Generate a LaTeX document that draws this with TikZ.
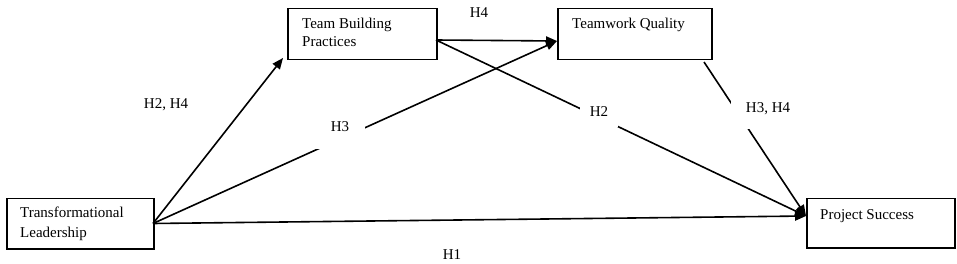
\documentclass[tikz,border=0pt]{standalone}
\usepackage{fontspec}
\setmainfont{Liberation Serif}
\usetikzlibrary{arrows.meta}
\begin{document}
\begin{tikzpicture}[x=1pt,y=-1pt,
  box/.style={draw=black, line width=1.5pt, rectangle, inner sep=0pt, anchor=north west},
  txt/.style={inner sep=0pt, anchor=base west, font=\fontsize{15}{19}\selectfont},
  lbl/.style={inner sep=2pt, fill=white, anchor=base, font=\fontsize{15}{19}\selectfont},
  conn/.style={line width=1.6pt, -{Triangle[length=11pt,width=9pt]}}]
\useasboundingbox (0,0) rectangle (957,264);
% boxes
\node[box, minimum width=147pt, minimum height=50pt] (tl) at (6,198) {};
\node[box, minimum width=149pt, minimum height=51pt] (tb) at (287,8) {};
\node[box, minimum width=154pt, minimum height=51pt] (tq) at (557,8) {};
\node[box, minimum width=148pt, minimum height=49pt] (ps) at (806,198) {};
% texts
\node[txt] (tl1) at (20,218) {Transformational};
\node[txt] (tl2) at (20,237) {Leadership};
\node[txt] (tb1) at (302,29) {Team Building};
\node[txt] (tb2) at (302,47) {Practices};
\node[txt] (tq1) at (572,29) {Teamwork Quality};
\node[txt] (ps1) at (820,220) {Project Success};
% anchor coordinates
\coordinate (tlout) at (153,223.5);
\coordinate (tbin) at (283,58);
\coordinate (tbout) at (436,40);
\coordinate (tqin) at (557,41);
\coordinate (tqout) at (704,62);
\coordinate (psin) at (806,216);
% connectors
\draw[conn] (tlout) -- (tbin);
\draw[conn] (tlout) -- (tqin);
\draw[conn] (tbout) -- (tqin);
\draw[conn] (tbout) -- (psin);
\draw[conn] (tlout) -- (psin);
\draw[conn] (tqout) -- (psin);
% labels
\node[lbl] (h4a) at (479,18) {H4};
\node[lbl] (h24) at (166,109) {H2, H4};
\node[lbl, text height=11pt, text depth=15pt, inner xsep=16pt, inner ysep=2pt] (h3) at (340,132) {H3};
\node[lbl, text height=11pt, text depth=7pt, inner xsep=10pt, inner ysep=3pt] (h2) at (599,117) {H2};
\node[lbl, text height=11pt, text depth=14pt, inner xsep=15pt, inner ysep=2pt] (h34) at (768,113) {H3, H4};
\node[lbl] (h1) at (452,259) {H1};
\end{tikzpicture}
\end{document}
